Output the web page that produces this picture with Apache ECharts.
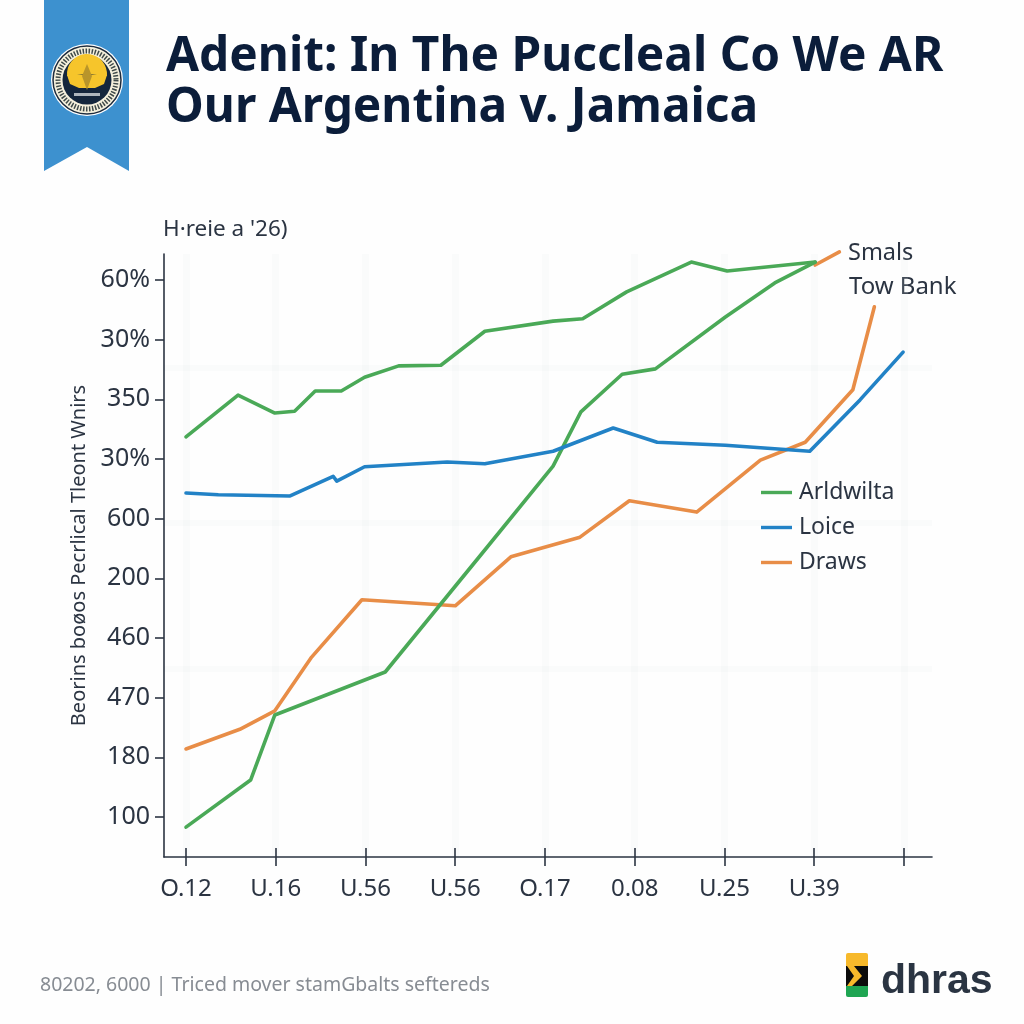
<!DOCTYPE html>
<html>
<head>
<meta charset="utf-8">
<style>html,body{margin:0;padding:0;background:#fefefe}#c{width:1024px;height:1024px}</style>
<script src="https://cdn.jsdelivr.net/npm/echarts@6/dist/echarts.min.js"></script>
</head>
<body>
<div id="c"></div>
<script>
const titleText = "Adenit: In The Puccleal Co We AR\nOur Argentina v. Jamaica";
const subtitleText = "H\u00B7reie a '26)";
const yAxisName = "Beorins boøos Pecrlical Tleont Wnirs";
const footerText = "80202, 6000 | Triced mover stamGbalts seftereds";
const brandText = "dhras";
const directLabels = ["Smals", "Tow Bank"];
const xTickLabels = ["O.12","U.16","U.56","U.56","O.17","0.08","U.25","U.39",""];
const yTickLabels = ["100","180","470","460","200","600","30%","350","30%","60%"];
const xTicks = [0,1,2,3,4,5,6,7,8];
const yTicks = [0,1,2,3,4,5,6,7,8,9];
const faintBands = [2.49,4.93,7.53];

const greenUpper = [[0,6.37],[0.58,7.07],[0.99,6.77],[1.21,6.80],[1.44,7.14],[1.73,7.14],[1.99,7.37],[2.37,7.56],[2.84,7.57],[3.33,8.14],[4.09,8.31],[4.42,8.35],[4.91,8.80],[5.63,9.30],[6.03,9.15],[7.01,9.30]];
const greenLower = [[0,-0.17],[0.72,0.62],[0.99,1.71],[2.22,2.43],[3.30,4.42],[4.09,5.88],[4.40,6.79],[4.86,7.42],[5.23,7.51],[6.01,8.38],[6.56,8.95],[7.01,9.30]];
const blueLine = [[0,5.43],[0.36,5.40],[1.16,5.38],[1.64,5.71],[1.68,5.63],[1.99,5.87],[2.91,5.95],[3.33,5.92],[4.09,6.13],[4.76,6.52],[5.25,6.28],[6.01,6.23],[6.95,6.13],[7.51,6.99],[7.99,7.79]];
const orangeLine = [[0,1.14],[0.60,1.47],[0.99,1.78],[1.40,2.68],[1.96,3.64],[3.00,3.54],[3.62,4.36],[4.39,4.69],[4.94,5.30],[5.69,5.11],[6.40,5.98],[6.90,6.28],[7.43,7.16],[7.67,8.55]];
const orangeStub = [[7.01,9.25],[7.28,9.47]];

const GREEN = '#4aa957', BLUE = '#2282c6', ORANGE = '#e88d47', INK = '#2b3442', NAVY = '#0b1d3a';
const FONT = '"Noto Sans","Open Sans",sans-serif';
const xRange = {min:-0.245, max:8.312};
const yRange = {min:-0.67, max:9.435};
const FAINT = 'rgba(225,228,232,0.13)';

function line(name, data, color, z){
  return {name, type:'line', data, symbol:'none', smooth:false, z, clip:false,
          lineStyle:{color, width:3.6, cap:'round', join:'round'}, itemStyle:{color}};
}
const chart = echarts.init(document.getElementById('c'), null, {renderer:'canvas'});
chart.setOption({
  animation:false,
  backgroundColor:'#fefefe',
  title:{
    text:titleText, left:161, top:27,
    textStyle:{fontFamily:FONT, fontSize:47.8, fontWeight:700, color:NAVY, lineHeight:51}
  },
  grid:{left:164, right:92, top:254, bottom:167, containLabel:false},
  legend:{
    left:756, top:476, orient:'vertical', itemGap:12, itemWidth:31, itemHeight:3.4, icon:'rect',
    data:['Arldwilta','Loice','Draws'],
    textStyle:{fontFamily:FONT, fontSize:23, color:INK, padding:[0,0,0,2]}
  },
  xAxis:[{
    type:'value', ...xRange, position:'bottom',
    axisLine:{show:true, lineStyle:{color:INK, width:1.6}, onZero:false},
    axisTick:{show:true, length:9, customValues:xTicks, lineStyle:{color:INK, width:1.6}},
    axisLabel:{show:true, customValues:xTicks, margin:20, fontFamily:FONT, fontSize:24, color:INK,
      formatter:v=>xTickLabels[Math.round(v)]},
    splitLine:{show:true, lineStyle:{color:FAINT, width:7}}
  },{
    type:'value', ...xRange, position:'bottom',
    axisLine:{show:false,onZero:false},
    axisTick:{show:true, inside:true, length:9, customValues:xTicks, lineStyle:{color:INK, width:1.6}},
    axisLabel:{show:false}, splitLine:{show:false}
  }],
  yAxis:[{
    type:'value', ...yRange, position:'left',
    name:yAxisName, nameLocation:'middle', nameGap:68, nameRotate:90,
    nameTextStyle:{fontFamily:FONT, fontSize:20, color:INK},
    axisLine:{show:true, lineStyle:{color:INK, width:1.6}, onZero:false},
    axisTick:{show:true, length:9, customValues:yTicks, lineStyle:{color:INK, width:1.6}},
    axisLabel:{show:true, customValues:yTicks, margin:14, fontFamily:FONT, fontSize:25, color:INK,
      formatter:v=>yTickLabels[Math.round(v)]},
    splitLine:{show:false}
  },{
    type:'value', ...yRange, position:'left',
    axisLine:{show:false,onZero:false},
    axisTick:{show:false, customValues:faintBands},
    axisLabel:{show:false},
    splitLine:{show:true, lineStyle:{color:FAINT, width:6}}
  }],
  series:[
    line('Draws', orangeLine, ORANGE, 3),
    line('Smals', orangeStub, ORANGE, 3),
    line('Arldwilta', greenLower, GREEN, 4),
    line('Arldwilta', greenUpper, GREEN, 4),
    line('Loice', blueLine, BLUE, 5)
  ],
  graphic:{elements:[
    {type:'polygon', shape:{points:[[44,0],[129,0],[129,171],[87,147],[44,171]]}, style:{fill:'#3d91cf'}},
    {type:'circle', shape:{cx:87,cy:80,r:36}, style:{fill:'#ffffff'}},
    {type:'circle', shape:{cx:87,cy:80,r:34}, style:{fill:'#f5f0dc', stroke:'#1d2b3d', lineWidth:1.5}},
    {type:'circle', shape:{cx:87,cy:80,r:29}, style:{fill:'none', stroke:'#3f4a4a', lineWidth:5, lineDash:[1.5,1.5]}},
    {type:'circle', shape:{cx:87,cy:80,r:24.5}, style:{fill:'#14263c'}},
    {type:'sector', shape:{cx:87,cy:74,r0:0,r:20,startAngle:Math.PI*0.97,endAngle:Math.PI*2.03}, style:{fill:'#f6c52b'}},
    {type:'polygon', shape:{points:[[67,75],[107,75],[104,84],[95,88],[79,88],[70,84]]}, style:{fill:'#f6c52b'}},
    {type:'polygon', shape:{points:[[87,64],[92,76],[87,90],[82,76]]}, style:{fill:'#b9952a'}},
    {type:'rect', shape:{x:74,y:93,width:26,height:3}, style:{fill:'#aeb6bd'}},
    {type:'text', left:163, top:218, style:{text:subtitleText, font:'22.5px '+FONT, fill:INK}},
    {type:'text', left:848, top:241, style:{text:directLabels[0], font:'23.5px '+FONT, fill:INK}},
    {type:'text', left:849, top:275, style:{text:directLabels[1], font:'24px '+FONT, fill:INK}},
    {type:'text', left:40, top:975, style:{text:footerText, font:'19.5px '+FONT, fill:'#878c93'}},
    {type:'rect', shape:{x:846,y:953,width:22,height:15,r:[2,2,0,0]}, style:{fill:'#f7b92b'}},
    {type:'rect', shape:{x:846,y:966,width:22,height:22}, style:{fill:'#0c0c0c'}},
    {type:'rect', shape:{x:846,y:986,width:22,height:11,r:[0,0,2,2]}, style:{fill:'#1fa552'}},
    {type:'polygon', shape:{points:[[847,966],[854,966],[862,976],[852,986],[847,986],[854,976]]}, style:{fill:'#f7b92b'}},
    {type:'text', left:881, top:961, style:{text:brandText, font:'700 41px "Liberation Sans",sans-serif', fill:'#2a3442'}}
  ]}
});
</script>
</body>
</html>
